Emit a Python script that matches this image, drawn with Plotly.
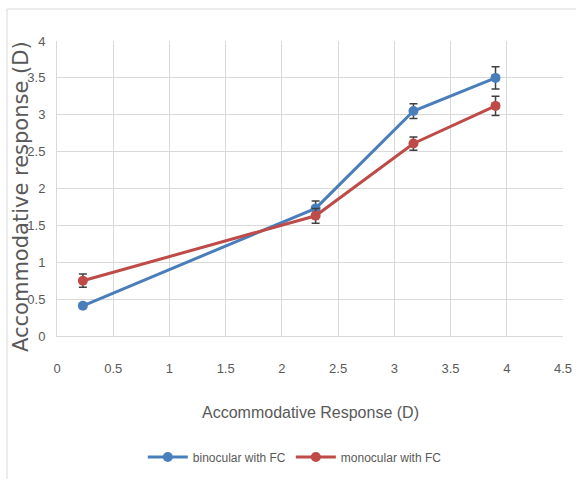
import plotly.graph_objects as go

x_vals = [0.23, 2.3, 3.17, 3.9]
binocular = [0.41, 1.73, 3.05, 3.50]
binocular_err = [0.03, 0.10, 0.10, 0.15]
monocular = [0.75, 1.63, 2.61, 3.12]
monocular_err = [0.09, 0.10, 0.09, 0.13]
x_ticks = [0, 0.5, 1, 1.5, 2, 2.5, 3, 3.5, 4, 4.5]
y_ticks = [0, 0.5, 1, 1.5, 2, 2.5, 3, 3.5, 4]

BLUE = "#4A7EBB"
RED = "#BE4B48"
FONT = "Liberation Sans, Arial, sans-serif"

fig = go.Figure()
for name, ys, err, col in [("binocular with FC", binocular, binocular_err, BLUE),
                           ("monocular with FC", monocular, monocular_err, RED)]:
    fig.add_trace(go.Scatter(
        x=x_vals, y=ys, name=name, mode="lines+markers",
        line=dict(color=col, width=3),
        marker=dict(color=col, size=10),
        error_y=dict(type="data", array=err, visible=True, color="#404040",
                     thickness=1.5, width=4),
    ))

fig.update_layout(
    width=576, height=479,
    paper_bgcolor="white", plot_bgcolor="white",
    margin=dict(l=57, r=13, t=41, b=143, autoexpand=False),
    font=dict(family=FONT, color="#595959", size=13),
    showlegend=True,
    legend=dict(orientation="h", x=0.47, xanchor="center", y=-0.41, yanchor="middle",
                font=dict(family=FONT, size=12, color="#595959"), itemwidth=40),
    xaxis=dict(range=[0, 4.5], tickvals=x_ticks, ticktext=[str(t) for t in x_ticks],
               showgrid=True, gridcolor="#D9D9D9", gridwidth=1,
               showline=True, linecolor="#D9D9D9", zeroline=False,
               ticklabelstandoff=20, tickfont=dict(size=13)),
    yaxis=dict(range=[0, 4], tickvals=y_ticks, ticktext=[str(t) for t in y_ticks],
               showgrid=True, gridcolor="#D9D9D9", gridwidth=1,
               showline=True, linecolor="#D9D9D9", zeroline=False,
               ticklabelstandoff=8, tickfont=dict(size=13)),
    annotations=[
        dict(text="Accommodative Response (D)", xref="paper", yref="paper",
             x=0.5, y=-0.26, xanchor="center", yanchor="middle", showarrow=False,
             font=dict(family=FONT, size=16, color="#595959")),
        dict(text="Accommodative response (D)", xref="paper", yref="paper",
             x=(21 - 57) / 506, y=(336 - 197) / 295, xanchor="center", yanchor="middle",
             showarrow=False, textangle=-90,
             font=dict(family="DejaVu Sans, Verdana, sans-serif", size=21,
                       color="#595959")),
    ],
    shapes=[dict(type="rect", xref="paper", yref="paper",
                 x0=(7 - 57) / 506, x1=(590 - 57) / 506,
                 y0=(336 - 490) / 295, y1=(336 - 9) / 295,
                 line=dict(color="#D9D9D9", width=1))],
)

fig.write_html("out.html", config={"displayModeBar": False},
               post_script="document.body.style.margin='0';document.body.style.overflow='hidden';")
